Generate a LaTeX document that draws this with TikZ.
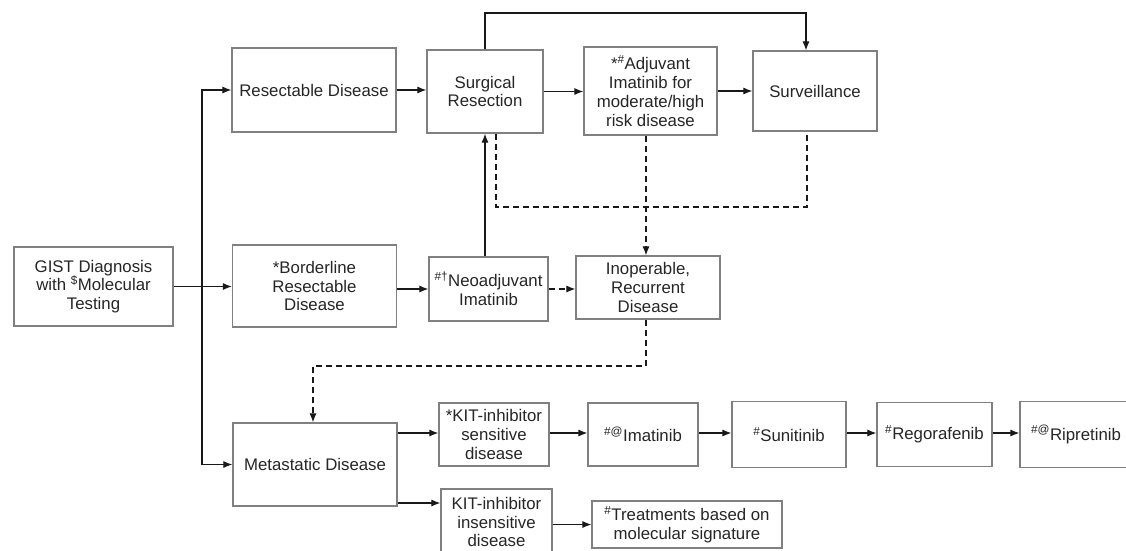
\documentclass[tikz,border=0pt]{standalone}
\usepackage{fontspec}
\setmainfont{Liberation Sans}
\usetikzlibrary{shapes.geometric, arrows.meta}

\begin{document}
\begin{tikzpicture}[x=1pt, y=-1pt, node distance=145pt, font=\fontsize{16.8}{18.8}\selectfont]
    \tikzstyle{box} = [rectangle, draw=black!50, line width=1.2pt, fill=white, text=black!85, align=center, inner sep=2pt]
    \tikzstyle{arrow} = [line width=1.1pt, black!90, ->, >={Latex[length=9pt,width=7pt]}]
    \tikzstyle{darrow} = [arrow, dash pattern=on 6pt off 4pt]
    \tikzstyle{dline} = [line width=1.1pt, black!90, dash pattern=on 6pt off 4pt]
    \path[use as bounding box] (0,0) rectangle (1126,550);
    \clip (0,0) rectangle (1126,550);
    % left column
    \node[box, minimum width=159, minimum height=79] (gist) at (93.5,286.5) {GIST Diagnosis\\with \textsuperscript{\$}Molecular\\Testing};
    \node[box, minimum width=164, minimum height=84] (resect) at (314,90) {Resectable Disease};
    \node[box, minimum width=164, minimum height=82] (border) at (314.5,286) {*Borderline\\Resectable\\Disease};
    \node[box, minimum width=164, minimum height=83] (meta) at (315,464.5) {Metastatic Disease};
    % top row
    \node[box, minimum width=116, minimum height=83] (surg) at (485,91.5) {Surgical\\Resection};
    \node[box, minimum width=133, minimum height=88] (adj) at (650.5,91) {*\textsuperscript{\#}Adjuvant\\Imatinib for\\moderate/high\\risk disease};
    \node[box, minimum width=124, minimum height=80] (surv) at (815,91) {Surveillance};
    % middle row
    \node[box, minimum width=119, minimum height=64] (neo) at (488.5,289) {\textsuperscript{\#\textdagger}Neoadjuvant\\Imatinib};
    \node[box, minimum width=144, minimum height=63] (inop) at (648,287.5) {Inoperable,\\Recurrent\\Disease};
    % bottom rows
    \node[box, minimum width=110, minimum height=63] (sens) at (494,434.5) {*KIT-inhibitor\\sensitive\\disease};
    \node[box, minimum width=110, minimum height=63, right of=sens, xshift=4] (ima) {\textsuperscript{\#@}Imatinib};
    \node[box, minimum width=114, minimum height=66, right of=ima, xshift=1] (suni) {\textsuperscript{\#}Sunitinib};
    \node[box, minimum width=115, minimum height=64, right of=suni, xshift=0.5] (rego) {\textsuperscript{\#}Regorafenib};
    \node[box, minimum width=112, minimum height=66, right of=rego, xshift=-3.5] (ripr) {\textsuperscript{\#@}Ripretinib};
    \node[box, minimum width=111, minimum height=66] (insens) at (496.5,522) {KIT-inhibitor\\insensitive\\disease};
    \node[box, minimum width=190, minimum height=47] (treat) at (687,524.5) {\textsuperscript{\#}Treatments based on\\molecular signature};
    % connectors
    \coordinate (split) at (202,286.5);
    \coordinate (top) at (806,13);
    \coordinate (dl) at (496,207);
    \coordinate (dr) at (807,207);
    \coordinate (mid) at (313,366);
    \draw[arrow] (gist.east) -- (gist.east -| border.west);
    \draw[arrow] (split) |- (resect.west);
    \draw[arrow] (split) |- (meta.west);
    \draw[arrow] (resect.east) -- (resect.east -| surg.west);
    \draw[arrow] (surg.east) -- (surg.east -| adj.west);
    \draw[arrow] (adj.east) -- (adj.east -| surv.west);
    \draw[arrow] (surg.north) |- (top) -- (top |- surv.north);
    \draw[arrow] (border.east |- neo.west) -- (neo.west);
    \draw[arrow] (surg.south |- neo.north) -- (surg.south);
    \draw[darrow] (neo.east) -- (neo.east -| inop.west);
    \draw[dline] (dl |- surg.south) -- (dl) -- (dr) -- (dr |- surv.south);
    \draw[darrow] (adj.south -| 646,0) -- (inop.north -| 646,0);
    \draw[darrow] (inop.south -| 646,0) |- (mid) -- (mid |- meta.north);
    \draw[arrow] (meta.east |- 0,433) -- (sens.west |- 0,433);
    \draw[arrow] (meta.east |- 0,503) -- (insens.west |- 0,503);
    \draw[arrow] (sens.east |- 0,433) -- (ima.west |- 0,433);
    \draw[arrow] (ima.east |- 0,433) -- (suni.west |- 0,433);
    \draw[arrow] (suni.east |- 0,433) -- (rego.west |- 0,433);
    \draw[arrow] (rego.east |- 0,433) -- (ripr.west |- 0,433);
    \draw[arrow] (insens.east |- treat.west) -- (treat.west);
\end{tikzpicture}
\end{document}
